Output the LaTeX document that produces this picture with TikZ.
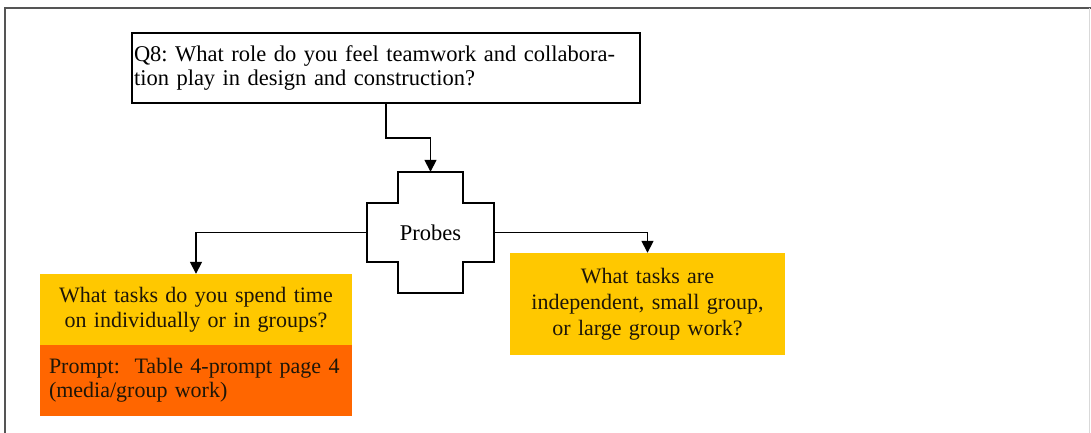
\documentclass[tikz,border=0pt]{standalone}
\usepackage{fontspec}
\setmainfont{Liberation Serif}
\frenchspacing
\usetikzlibrary{arrows.meta,calc}
\definecolor{boxyellow}{HTML}{FFC800}
\definecolor{boxorange}{HTML}{FF6600}
\definecolor{inktext}{HTML}{1E1608}
\definecolor{framegray}{HTML}{555555}
\begin{document}
\begin{tikzpicture}[x=1pt,y=-1pt,
  qbox/.style={draw=black, line width=1.8pt, fill=white, minimum width=508pt, minimum height=70pt,
    text width=504pt, inner xsep=2pt, align=left, font=\fontsize{22.5}{23.5}\selectfont, anchor=center},
  probebox/.style={minimum width=127pt, minimum height=121pt, inner sep=0pt, font=\fontsize{22.5}{24}\selectfont},
  yellowbox/.style={fill=boxyellow, text=inktext, inner sep=0pt, align=center},
  orangebox/.style={fill=boxorange, text=inktext, inner xsep=9pt, inner ysep=0pt, align=left},
  crossline/.style={draw=black, line width=1.6pt},
  arr/.style={draw=black, line width=1.6pt, -{Triangle[length=12pt,width=12pt]}}
]
\useasboundingbox (0,0) rectangle (1091,433);

% outer frame
\draw[framegray, line width=2pt] (5,433) -- (5,8.5) -- (1091,8.5);
\draw[gray!30, line width=1pt] (1089.5,8.5) -- (1089.5,433);

% question box
\node[qbox] (q8) at (386,68) {Q8: What role do you feel teamwork and collabora-\\tion play in design and construction?};

% probes cross
\node[probebox] (probes) at (430.5,232.5) {Probes};
\draw[crossline, shift={(probes.center)}]
  (-32.5,-60.5) -- (32.5,-60.5) -- (32.5,-29.5) -- (63.5,-29.5) -- (63.5,29.5)
  -- (32.5,29.5) -- (32.5,60.5) -- (-32.5,60.5) -- (-32.5,29.5) -- (-63.5,29.5)
  -- (-63.5,-29.5) -- (-32.5,-29.5) -- cycle;

% left probe with its prompt underneath
\node[yellowbox, minimum width=312pt, minimum height=71pt, text width=312pt,
  font=\fontsize{22}{25}\selectfont] (task1) at (196,309.5)
  {What tasks do you spend time\\on individually or in groups?};
\node[orangebox, minimum width=312pt, minimum height=71pt, text width=294pt,
  font=\fontsize{22}{24}\selectfont] (prompt1) at (196,380.5)
  {\mbox{Prompt:\ \ Table 4-prompt page 4}\\\mbox{(media/group work)}};

% right probe
\node[yellowbox, minimum width=275pt, minimum height=102pt, text width=275pt,
  font=\fontsize{22}{26}\selectfont] (task2) at (647.5,304)
  {What tasks are\\independent, small group,\\or large group work?};

% connectors
\draw[arr] (q8.south) -- ++(0,34) -| (probes.north);
\draw[arr] (probes.west) -| (task1.north);
\draw[arr] (probes.east) -| (task2.north);
\end{tikzpicture}
\end{document}
